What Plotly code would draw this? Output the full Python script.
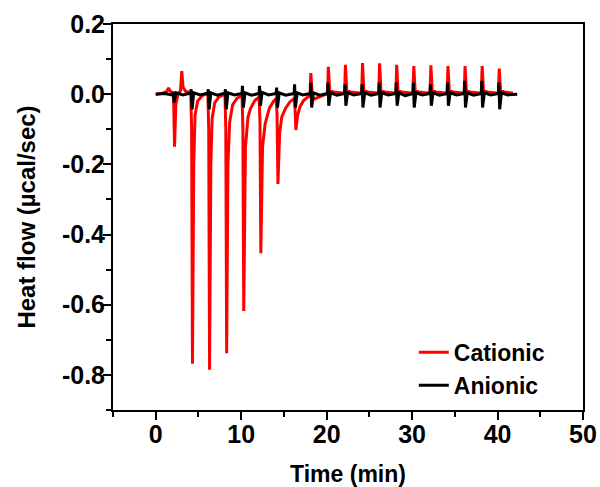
import plotly.graph_objects as go

# ---- data (time in min, heat flow in µcal/sec) ----
cationic_time = [
    0.0, 0.8, 1.3, 1.5, 1.7, 2.0,
    2.1, 2.2, 2.35, 2.6, 2.9, 3.05, 3.2, 3.5, 4.1,
    4.2, 4.3, 4.45, 4.6, 4.9, 5.4, 6.1,
    6.2, 6.3, 6.45, 6.6, 6.9, 7.4, 8.1,
    8.2, 8.3, 8.45, 8.65, 9.0, 9.5, 10.1,
    10.2, 10.3, 10.5, 10.8, 11.1, 11.6, 12.1,
    12.2, 12.3, 12.5, 12.8, 13.3, 13.8, 14.1,
    14.2, 14.3, 14.5, 14.75, 15.2, 15.7, 16.2,
    16.3, 16.4, 16.6, 16.9, 17.3, 17.8, 18.05,
    18.15, 18.3, 18.45, 18.9, 19.6, 20.1,
    20.2, 20.35, 20.8, 21.7, 22.1,
    22.2, 22.35, 22.8, 23.7, 24.1,
    24.2, 24.35, 24.8, 25.7, 26.1,
    26.2, 26.35, 26.8, 27.7, 28.1,
    28.2, 28.35, 28.8, 29.7, 30.1,
    30.2, 30.35, 30.8, 31.7, 32.1,
    32.2, 32.35, 32.8, 33.7, 34.1,
    34.2, 34.35, 34.8, 35.7, 36.1,
    36.2, 36.35, 36.8, 37.7, 38.1,
    38.2, 38.35, 38.8, 39.7, 40.1,
    40.2, 40.35, 40.8, 41.8,
]
cationic_flow = [
    0.0, 0.003, 0.008, 0.018, 0.008, 0.005,
    -0.02, -0.15, -0.03, 0.0, 0.01, 0.066, 0.02, 0.008, 0.005,
    -0.1, -0.768, -0.2, -0.06, -0.02, -0.005, 0.003,
    -0.1, -0.785, -0.2, -0.07, -0.025, -0.008, 0.0,
    -0.1, -0.738, -0.2, -0.08, -0.03, -0.012, -0.003,
    -0.1, -0.618, -0.15, -0.065, -0.04, -0.018, -0.008,
    -0.08, -0.453, -0.15, -0.085, -0.04, -0.02, -0.012,
    -0.06, -0.256, -0.11, -0.065, -0.04, -0.022, -0.012,
    -0.04, -0.102, -0.06, -0.035, -0.018, -0.008, -0.003,
    0.060, 0.0, -0.015, -0.01, -0.004, 0.002,
    0.078, 0.012, 0.006, 0.004, 0.003,
    0.084, 0.012, 0.006, 0.004, 0.003,
    0.089, 0.012, 0.006, 0.004, 0.003,
    0.088, 0.012, 0.006, 0.004, 0.003,
    0.084, 0.012, 0.006, 0.004, 0.003,
    0.080, 0.012, 0.006, 0.004, 0.003,
    0.082, 0.012, 0.006, 0.004, 0.003,
    0.080, 0.012, 0.006, 0.004, 0.003,
    0.080, 0.012, 0.006, 0.004, 0.003,
    0.080, 0.012, 0.006, 0.004, 0.003,
    0.073, 0.012, 0.006, 0.003,
]

anionic_time = [
    0.0, 1.0, 1.9, 2.05, 2.15, 2.35, 3.2,
    4.1, 4.15, 4.25, 4.45, 5.2,
    6.1, 6.15, 6.25, 6.45, 7.2,
    8.1, 8.15, 8.25, 8.45, 9.2,
    10.1, 10.15, 10.25, 10.45, 11.2,
    12.1, 12.15, 12.25, 12.45, 13.2,
    14.1, 14.15, 14.25, 14.45, 15.2,
    16.2, 16.25, 16.35, 16.55, 17.2,
    18.1, 18.15, 18.25, 18.45, 19.2,
    20.1, 20.15, 20.25, 20.45, 21.2,
    22.1, 22.15, 22.25, 22.45, 23.2,
    24.1, 24.15, 24.25, 24.45, 25.2,
    26.1, 26.15, 26.25, 26.45, 27.2,
    28.1, 28.15, 28.25, 28.45, 29.2,
    30.1, 30.15, 30.25, 30.45, 31.2,
    32.1, 32.15, 32.25, 32.45, 33.2,
    34.1, 34.15, 34.25, 34.45, 35.2,
    36.1, 36.15, 36.25, 36.45, 37.2,
    38.1, 38.15, 38.25, 38.45, 39.2,
    40.1, 40.15, 40.25, 40.45, 41.2, 42.3,
]
anionic_flow = [
    0.0, 0.002, -0.002, 0.005, -0.024, 0.004, -0.002,
    0.003, 0.014, -0.043, 0.004, -0.002,
    0.003, 0.014, -0.043, 0.004, -0.003,
    0.003, 0.014, -0.043, 0.004, -0.002,
    0.002, 0.024, -0.038, 0.004, -0.003,
    0.002, 0.024, -0.033, 0.005, -0.002,
    0.002, 0.019, -0.038, 0.004, -0.003,
    0.002, 0.028, -0.038, 0.004, -0.002,
    0.002, 0.033, -0.038, 0.004, -0.003,
    0.002, 0.033, -0.033, 0.004, -0.003,
    0.002, 0.028, -0.033, 0.004, -0.002,
    0.002, 0.028, -0.038, 0.004, -0.003,
    0.002, 0.033, -0.038, 0.004, -0.002,
    0.002, 0.033, -0.033, 0.004, -0.004,
    0.002, 0.033, -0.038, 0.004, -0.002,
    0.002, 0.028, -0.033, 0.004, -0.003,
    0.002, 0.033, -0.033, 0.004, -0.002,
    0.002, 0.038, -0.038, 0.004, -0.003,
    0.002, 0.038, -0.038, 0.004, -0.002,
    0.002, 0.033, -0.043, 0.004, -0.002, 0.0,
]

x_tick_vals = [0, 10, 20, 30, 40, 50]
x_tick_text = ["0", "10", "20", "30", "40", "50"]
y_tick_vals = [0.2, 0.0, -0.2, -0.4, -0.6, -0.8]
y_tick_text = ["0.2", "0.0", "-0.2", "-0.4", "-0.6", "-0.8"]

FONT = "Liberation Sans, Arial, sans-serif"

fig = go.Figure()
fig.add_trace(go.Scatter(x=cationic_time, y=cationic_flow, mode="lines",
                         name="Cationic", line=dict(color="#ff0000", width=3)))
fig.add_trace(go.Scatter(x=anionic_time, y=anionic_flow, mode="lines",
                         name="Anionic", line=dict(color="#000000", width=3)))

axis_common = dict(
    showline=True, linecolor="black", linewidth=2, mirror=True,
    ticks="outside", ticklen=8, tickwidth=2, tickcolor="black",
    showgrid=False, zeroline=False, automargin=False,
    tickfont=dict(family=FONT, size=25, color="black", weight="bold"),
)

fig.update_xaxes(
    range=[-5, 50], tickmode="array", tickvals=x_tick_vals, ticktext=x_tick_text,
    ticklabelstandoff=-7,
    minor=dict(tickmode="linear", tick0=0, dtick=5, ticks="outside", ticklen=5,
               tickwidth=2, tickcolor="black"),
    title=dict(text="Time (min)", font=dict(family=FONT, size=23, color="black", weight="bold"),
               standoff=22),
    **axis_common,
)
fig.update_yaxes(
    range=[-0.9, 0.2], tickmode="array", tickvals=y_tick_vals, ticktext=y_tick_text,
    ticklabelstandoff=-7,
    minor=dict(tickmode="linear", tick0=0, dtick=0.1, ticks="outside", ticklen=5,
               tickwidth=2, tickcolor="black"),
    title=dict(text="Heat flow (µcal/sec)", font=dict(family=FONT, size=24, color="black", weight="bold"),
               standoff=20),
    **axis_common,
)

fig.update_layout(
    width=600, height=487,
    margin=dict(l=113, r=17, t=24, b=77),
    paper_bgcolor="white", plot_bgcolor="white",
    legend=dict(x=0.64, y=0.205, xanchor="left", yanchor="top",
                bgcolor="rgba(0,0,0,0)", borderwidth=0,
                font=dict(family=FONT, size=23, color="black", weight="bold"),
                tracegroupgap=0, itemwidth=30),
    showlegend=True,
)

fig.write_html("out.html", config={"displayModeBar": False},
               post_script="document.body.style.margin='0';")
